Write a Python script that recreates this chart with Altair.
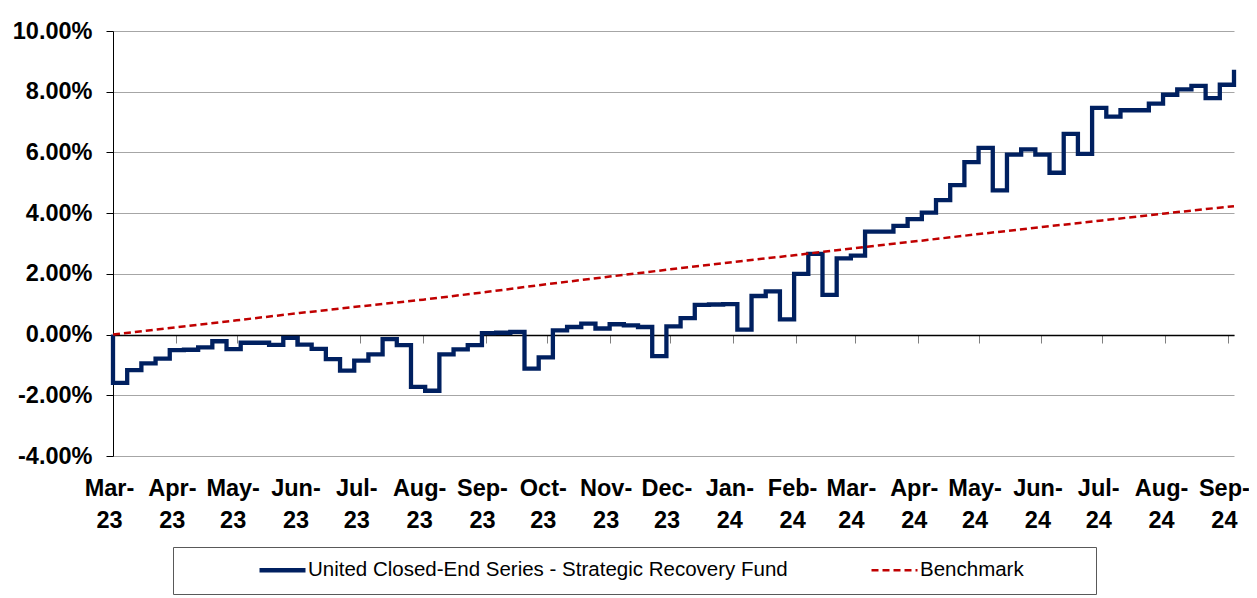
import altair as alt
import pandas as pd

# ---------------- data ----------------
series_names = ["United Closed-End Series - Strategic Recovery Fund", "Benchmark"]
series_colors = ["#002060", "#C00000"]

# weekly fund observations (first entry = inception value)
fund_dates = [
    "2023-03-01",
    "2023-03-01", "2023-03-08", "2023-03-15", "2023-03-22", "2023-03-29",
    "2023-04-05", "2023-04-12", "2023-04-19", "2023-04-26",
    "2023-05-03", "2023-05-10", "2023-05-17", "2023-05-24", "2023-05-31",
    "2023-06-07", "2023-06-14", "2023-06-21", "2023-06-28",
    "2023-07-05", "2023-07-12", "2023-07-19", "2023-07-26",
    "2023-08-02", "2023-08-09", "2023-08-16", "2023-08-23", "2023-08-30",
    "2023-09-06", "2023-09-13", "2023-09-20", "2023-09-27",
    "2023-10-04", "2023-10-11", "2023-10-18", "2023-10-25",
    "2023-11-01", "2023-11-08", "2023-11-15", "2023-11-22", "2023-11-29",
    "2023-12-06", "2023-12-13", "2023-12-20", "2023-12-27",
    "2024-01-03", "2024-01-10", "2024-01-17", "2024-01-24", "2024-01-31",
    "2024-02-07", "2024-02-14", "2024-02-21", "2024-02-28",
    "2024-03-06", "2024-03-13", "2024-03-20", "2024-03-27",
    "2024-04-03", "2024-04-10", "2024-04-17", "2024-04-24",
    "2024-05-01", "2024-05-08", "2024-05-15", "2024-05-22", "2024-05-29",
    "2024-06-05", "2024-06-12", "2024-06-19", "2024-06-26",
    "2024-07-03", "2024-07-10", "2024-07-17", "2024-07-24", "2024-07-31",
    "2024-08-07", "2024-08-14", "2024-08-21", "2024-08-28",
    "2024-09-04",
]
fund_values = [
    0.00,
    -1.59, -1.17, -0.95, -0.79, -0.51, -0.50, -0.42, -0.22, -0.48, -0.27,
    -0.27, -0.34, -0.11, -0.33, -0.47, -0.81, -1.19, -0.86, -0.65, -0.15,
    -0.35, -1.72, -1.85, -0.65, -0.49, -0.35, 0.05, 0.06, 0.09, -1.12,
    -0.75, 0.14, 0.25, 0.36, 0.20, 0.34, 0.30, 0.25, -0.71, 0.27,
    0.54, 0.98, 0.99, 1.00, 0.16, 1.27, 1.42, 0.50, 2.00, 2.66,
    1.31, 2.51, 2.60, 3.39, 3.39, 3.58, 3.80, 4.02, 4.43, 4.92,
    5.68, 6.15, 4.75, 5.93, 6.10, 5.93, 5.33, 6.61, 5.95, 7.47,
    7.18, 7.39, 7.39, 7.61, 7.90, 8.08, 8.19, 7.79, 8.23, 8.72,
]

bench_dates = [
    "2023-03-01", "2023-04-01", "2023-05-01", "2023-06-01", "2023-07-01",
    "2023-08-01", "2023-09-01", "2023-10-01", "2023-11-01", "2023-12-01",
    "2024-01-01", "2024-02-01", "2024-03-01", "2024-04-01", "2024-05-01",
    "2024-06-01", "2024-07-01", "2024-08-01", "2024-09-01", "2024-09-04",
]
bench_values = [
    0.00, 0.24, 0.47, 0.71, 0.93, 1.15, 1.40, 1.66, 1.91, 2.15,
    2.39, 2.62, 2.85, 3.08, 3.31, 3.54, 3.76, 3.99, 4.21, 4.23,
]

month_ticks = [
    "2023-03-01", "2023-04-01", "2023-05-01", "2023-06-01", "2023-07-01",
    "2023-08-01", "2023-09-01", "2023-10-01", "2023-11-01", "2023-12-01",
    "2024-01-01", "2024-02-01", "2024-03-01", "2024-04-01", "2024-05-01",
    "2024-06-01", "2024-07-01", "2024-08-01", "2024-09-01",
]
y_ticks = [-4, -2, 0, 2, 4, 6, 8, 10]
x_range = ["2023-03-01", "2024-09-04"]


def ms(s):
    return int(pd.Timestamp(s, tz="UTC").timestamp() * 1000)


fund_df = pd.DataFrame({
    "date": [ms(d) for d in fund_dates],
    "value": fund_values,
    "series": series_names[0],
    "idx": list(range(len(fund_values))),
})
bench_df = pd.DataFrame({
    "date": [ms(d) for d in bench_dates],
    "value": bench_values,
    "series": series_names[1],
    "idx": list(range(len(bench_values))),
})

FONT = "Liberation Sans"
tick_ms = [ms(d) for d in month_ticks]

x_scale = alt.Scale(type="utc", domain=[ms(x_range[0]), ms(x_range[1])], nice=False)
y_scale = alt.Scale(domain=[y_ticks[0], y_ticks[-1]], nice=False, zero=False)

y_axis = alt.Axis(
    values=y_ticks,
    labelExpr="(datum.value < 0 ? '-' : '') + format(abs(datum.value), '.2f') + '%'",
    title=None, grid=True, gridColor="#a6a6a6", gridWidth=1,
    domain=True, domainColor="#000000", domainWidth=1,
    ticks=True, tickColor="#000000", tickSize=7,
    labelFont=FONT, labelFontSize=23.5, labelFontWeight="bold", labelColor="#000000",
    labelPadding=14,
)

label_axis = alt.Axis(
    orient="bottom", values=tick_ms, title=None, grid=False,
    domain=False, ticks=False, tickSize=0,
    labelExpr="[utcFormat(datum.value, '%b-'), utcFormat(datum.value, '%y')]",
    labelFont=FONT, labelFontSize=23.5, labelFontWeight="bold", labelColor="#000000",
    labelPadding=20, labelLineHeight=32, labelOverlap=False, labelFlush=False,
    labelBaseline="top", labelOffset=-4,
)
zero_axis = alt.Axis(
    orient="bottom", values=tick_ms, title=None, grid=False, labels=False,
    offset=-121, domain=True, domainColor="#000000", domainWidth=1.3,
    ticks=True, tickColor="#7f7f7f", tickSize=8, tickWidth=1,
)

legend = alt.Legend(
    title=" ", titleOrient="right", titlePadding=59, titleFontSize=20,
    orient="none", legendX=60, legendY=516, direction="horizontal", columns=2,
    symbolType="stroke", symbolSize=46 * 46, clipHeight=20,
    padding=13, strokeColor="#595959", fillColor="#ffffff",
    symbolOffset=71, columnPadding=10, labelOffset=0,
    labelFont=FONT, labelFontSize=20.5, labelColor="#000000", labelLimit=800,
)

color = alt.Color("series:N", scale=alt.Scale(domain=series_names, range=series_colors), legend=legend)
dash = alt.StrokeDash("series:N", scale=alt.Scale(domain=series_names, range=[[1, 0], [7, 4]]), legend=legend)
width_enc = alt.StrokeWidth("series:N", scale=alt.Scale(domain=series_names, range=[4.3, 2.5]), legend=legend)

fund = alt.Chart(fund_df).mark_line(interpolate="step-after", strokeJoin="miter").encode(
    x=alt.X("date:T", scale=x_scale, axis=label_axis),
    y=alt.Y("value:Q", scale=y_scale, axis=y_axis),
    color=color, strokeDash=dash, strokeWidth=width_enc,
    order=alt.Order("idx:Q"),
)
bench = alt.Chart(bench_df).mark_line().encode(
    x=alt.X("date:T", scale=x_scale, axis=zero_axis),
    y=alt.Y("value:Q", scale=y_scale, axis=y_axis),
    color=color, strokeDash=dash, strokeWidth=width_enc,
    order=alt.Order("idx:Q"),
)

chart = alt.layer(fund, bench).resolve_axis(x="independent").properties(
    width=1121, height=425,
    autosize=alt.AutoSizeParams(type="none"),
    padding={"left": 105, "top": 23, "right": 15, "bottom": 140},
    background="#ffffff",
).configure_view(stroke=None)

chart.save("out.html", embed_options={"renderer": "svg", "actions": False})
